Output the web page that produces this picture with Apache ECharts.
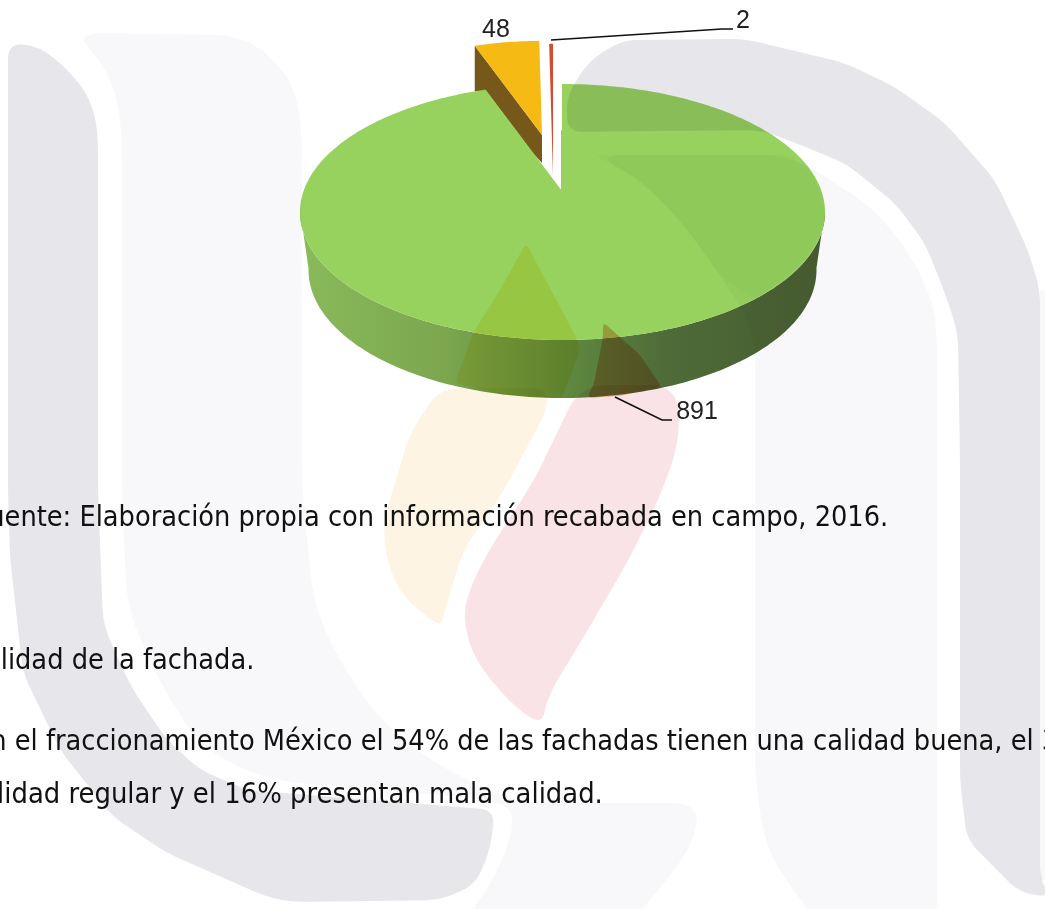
<!DOCTYPE html>
<html><head><meta charset="utf-8">
<script src="https://cdn.jsdelivr.net/npm/echarts@6/dist/echarts.min.js"></script>
<style>html,body{margin:0;padding:0;background:#fff;overflow:hidden}#c{width:1045px;height:909px}</style>
</head><body><div id="c"></div>
<script>
const categories = ['Buena', 'Regular', 'Mala'];
const seriesValues = [891, 48, 2];
const textLines = [
  'Fuente: Elaboración propia con información recabada en campo, 2016.',
  'Calidad de la fachada.',
  'En el fraccionamiento México el 54% de las fachadas tienen una calidad buena, el 30%',
  'calidad regular y el 16% presentan mala calidad.'
];

const total = seriesValues.reduce((a, b) => a + b, 0);
const C = {x: 562.5, y: 212, rx: 262.5, ry: 128};
const APEX = {x: 562, y: 191};
const K = 0.46;
const DEPTH = 58, RX2 = 254;
const looks = [
  {top: '#97d25f', ax: 562, ay: 191, s: 1, z: 5},
  {top: '#f5bb14', ax: 542, ay: 135, s: 0.88, z: 3, wall: '#75581a', d0: 28, d1: 45},
  {top: '#cf4f30', ax: 553, ay: 176, s: 1.236, z: 2}
];
const labelPos = [
  {x: 697, y: 412, line: [[615, 397], [662, 420], [672, 420]]},
  {x: 496, y: 30},
  {x: 743, y: 21, line: [[551, 40], [722, 29], [733, 29]]}
];

function rim(theta) {
  const a = theta * Math.PI / 180;
  const dx = Math.sin(a), dy = -K * Math.cos(a);
  const px = APEX.x - C.x, py = APEX.y - C.y;
  const A = dx * dx / (C.rx * C.rx) + dy * dy / (C.ry * C.ry);
  const B = 2 * (px * dx / (C.rx * C.rx) + py * dy / (C.ry * C.ry));
  const D = px * px / (C.rx * C.rx) + py * py / (C.ry * C.ry) - 1;
  const t = (-B + Math.sqrt(B * B - 4 * A * D)) / (2 * A);
  return [APEX.x + t * dx, APEX.y + t * dy];
}

function renderItem(params, api) {
  const i = params.dataIndex;
  const L = looks[i];
  const before = seriesValues.slice(0, i).reduce((a, b) => a + b, 0);
  const start = before / total * 360;
  const end = (before + api.value(0)) / total * 360;
  const place = p => [L.ax + (p[0] - APEX.x) * L.s, L.ay + (p[1] - APEX.y) * L.s];
  const children = [];
  const face = [[L.ax, L.ay]];
  const steps = Math.max(2, Math.ceil(end - start));
  const arc = [];
  for (let k = 0; k <= steps; k++) arc.push(rim(start + (end - start) * k / steps));
  arc.forEach(p => face.push(place(p)));

  if (i === 0) {
    const front = arc.filter(p => p[1] >= C.y - 2);
    const lower = front.map(p => [C.x + (p[0] - C.x) * RX2 / C.rx, p[1] + DEPTH]);
    children.push({
      type: 'polygon', z2: L.z - 1,
      shape: {points: front.concat(lower.reverse())},
      style: {fill: {type: 'linear', x: 0, y: 0, x2: 1, y2: 0, colorStops: [
        {offset: 0, color: '#8aba5a'}, {offset: 0.28, color: '#7ba64f'},
        {offset: 0.5, color: '#5f8a40'}, {offset: 0.7, color: '#4e6b38'},
        {offset: 1, color: '#475c30'}]}}
    });
    children.push({type: 'line', z2: L.z, shape: {x1: APEX.x, y1: 130, x2: APEX.x, y2: APEX.y},
      style: {stroke: '#5c6b50', lineWidth: 1}});
  }
  if (L.wall) {
    const e = place(arc[0]);
    children.push({
      type: 'polygon', z2: L.z - 1,
      shape: {points: [[L.ax, L.ay], e, [e[0], e[1] + L.d1], [L.ax, L.ay + L.d0]]},
      style: {fill: L.wall}
    });
  }
  children.push({type: 'polygon', z2: L.z, shape: {points: face}, style: {fill: L.top}});

  const P = labelPos[i];
  if (P.line) children.push({type: 'polyline', z2: 8, shape: {points: P.line},
    style: {stroke: '#111', lineWidth: 1.6, fill: 'none'}});
  children.push({type: 'text', z2: 9, x: P.x, y: P.y, style: {
    text: String(api.value(0)), fill: '#222', font: '25px "Liberation Sans", Arial, sans-serif',
    textAlign: 'center', textVerticalAlign: 'middle'}});
  return {type: 'group', children};
}

function outline(d, round) {
  let pts = d.match(/-?[\d.]+\s+-?[\d.]+/g).map(s => s.trim().split(/\s+/).map(Number));
  for (let it = 0; it < 4; it++) {
    const out = [];
    const cut = round / Math.pow(2, it);
    pts.forEach((p, n) => {
      const q = pts[(n + 1) % pts.length];
      const len = Math.hypot(q[0] - p[0], q[1] - p[1]) || 1;
      const f = Math.min(0.25, cut / len);
      out.push([p[0] + (q[0] - p[0]) * f, p[1] + (q[1] - p[1]) * f]);
      out.push([q[0] - (q[0] - p[0]) * f, q[1] - (q[1] - p[1]) * f]);
    });
    pts = out;
  }
  return pts;
}
const wm = (d, fill, round) => ({type: 'polygon', silent: true, z: 50,
  shape: {points: outline(d, round === undefined ? 16 : round)}, style: {fill, blend: 'multiply'}});
const GRAY = '#e6e6eb', LIGHT = '#f8f8fa';
const watermark = [
  // light bands
  wm('M75 33 L240 35 L275 60 L295 90 L302 130 L302 490 L313 600 L333 650 L377 717 L433 763 L517 803 L700 803 L693 843 L667 880 L620 935 L455 935 L500 870 L517 813 L493 800 L267 780 L200 747 L157 677 L127 607 L122 490 L122 130 L115 90 L100 60 Z', LIGHT),
  wm('M595 155 L790 155 L842 187 L878 213 L912 257 L932 300 L937 333 L937 940 L830 940 L767 853 L755 780 L755 330 L720 275 L680 220 L640 180 Z', LIGHT),
  wm('M1040 290 L1045 290 L1045 880 L1040 880 Z', LIGHT, 0),
  // left stroke of the U
  wm('M8 44 L35 45 L60 62 L85 90 L95 115 L98 140 L98 490 L103 623 L117 657 L133 690 L167 740 L200 770 L247 790 L495 810 L490 850 L475 885 L440 900 L293 902 L267 897 L167 853 L113 817 L60 750 L23 673 L10 557 L8 490 Z', GRAY, 8),
  // arch of the n
  wm('M567 132 L567 95 L590 60 L623 40 L745 39 L845 63 L895 87 L945 123 L995 180 L1028 250 L1040 290 L1040 880 L1052 897 L1020 893 L967 840 L960 780 L960 460 L958 333 L945 293 L925 243 L895 203 L845 163 L788 140 L760 130 Z', GRAY, 8),
  // flames
  wm('M440 388 L547 388 L547 410 L500 497 L463 550 L443 617 L440 627 L403 597 L387 563 L383 523 L410 433 Z', '#fdf4e4', 10),
  wm('M580 385 L677 385 L680 440 L660 497 L627 563 L580 643 L547 697 L542 727 L507 700 L473 657 L463 617 L470 587 L493 543 L533 483 Z', '#f9e3e6', 14),
  // flames and shade where they cross the pie
  wm('M526 243 L576 337 L580 350 L562 398 L520 396.5 L500 394 L455 383 L473 333 L500 290 Z', '#fff1b4', 3),
  wm('M603 322 L640 355 L662 387 L620 396 L587 398 L594 383 L603 337 Z', '#ffbc9e', 3),
  wm('M595 155 L790 155 L815 177 L825 212 L823 228 L800 266 L755 299 L720 275 L680 220 L640 180 Z', '#f8fcf5', 3)
];

const F = '28.6px "DejaVu Sans Condensed", "DejaVu Sans", sans-serif';
const T = (s, x, y, sx) => ({type: 'text', x, y, z: 60, silent: true, scaleX: sx,
  style: {text: s, fill: '#111', font: F, textVerticalAlign: 'middle'}});

const chart = echarts.init(document.getElementById('c'), null, {renderer: 'canvas', width: 1045, height: 909});
chart.setOption({
  animation: false,
  backgroundColor: '#fff',
  graphic: {elements: watermark.concat([
    T(textLines[0], -25, 519, 1),
    T(textLines[1], -33, 662, 1),
    T(textLines[2], -26, 743, 1),
    T(textLines[3], -33, 796, 1.007)
  ])},
  series: [{
    type: 'custom', coordinateSystem: 'none', z: 10, clip: false, silent: true,
    renderItem,
    data: seriesValues.map((v, i) => ({name: categories[i], value: [v]}))
  }]
});
</script></body></html>
